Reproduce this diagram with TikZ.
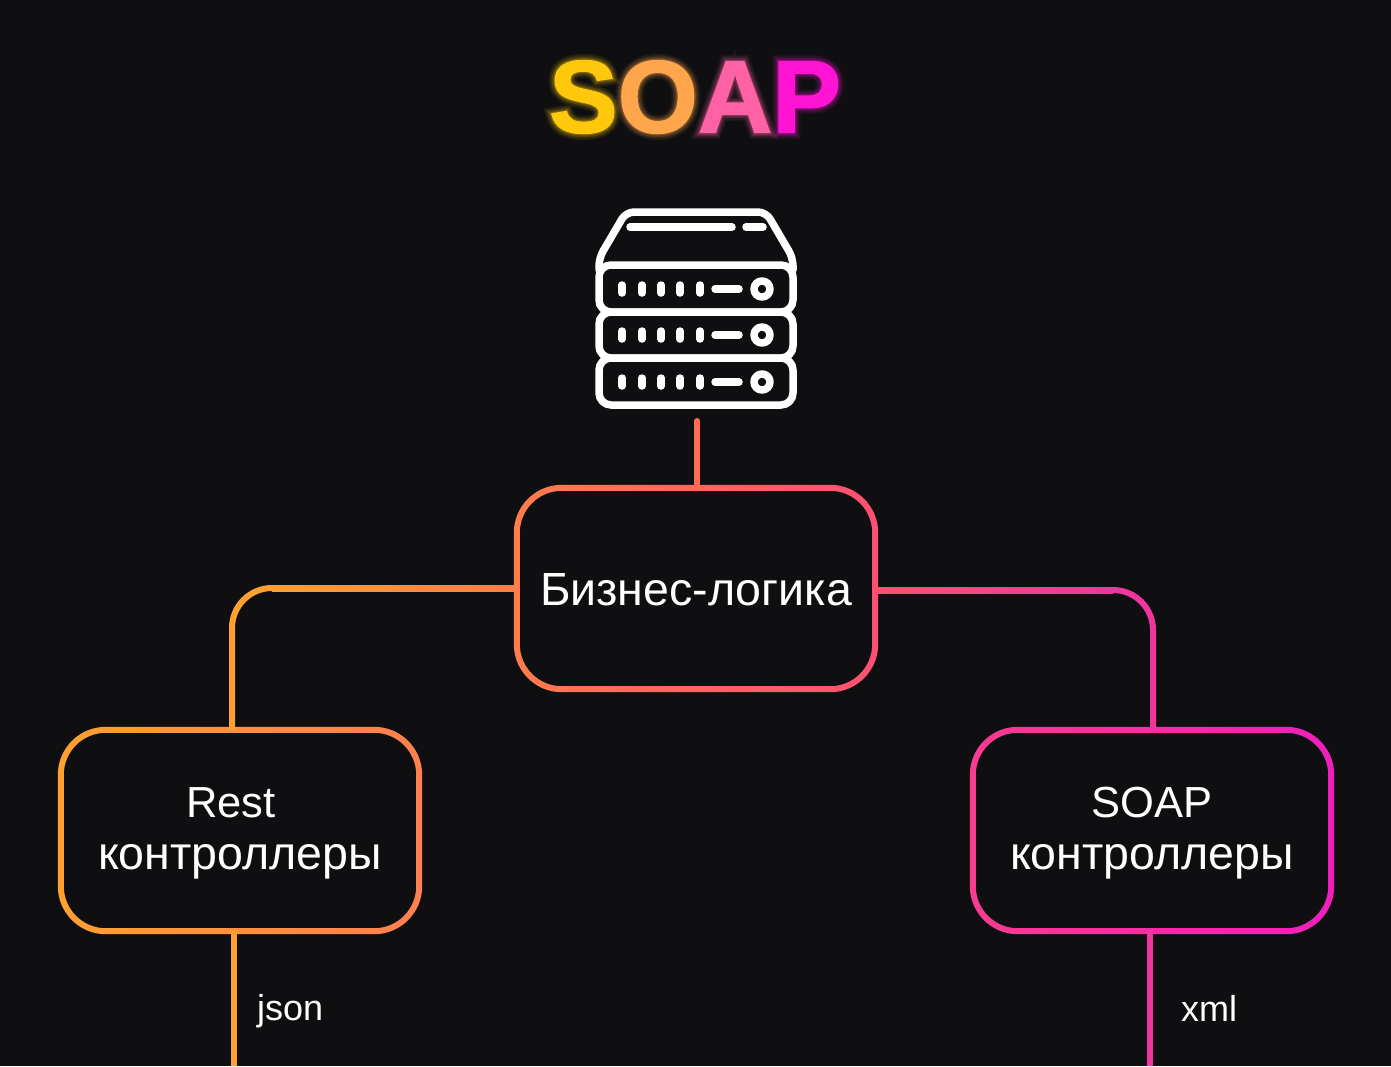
\documentclass[tikz,border=0pt]{standalone}
\usepackage{fontspec}
\setmainfont{Liberation Sans}
\newfontfamily\glowone[FakeBold=1.5]{Liberation Sans Bold}
\newfontfamily\glowtwo[FakeBold=4]{Liberation Sans Bold}
\newfontfamily\glowthree[FakeBold=7]{Liberation Sans Bold}
\newfontfamily\glowfour[FakeBold=10]{Liberation Sans Bold}
\newfontfamily\glowfive[FakeBold=13]{Liberation Sans Bold}
\usetikzlibrary{calc}
\tikzset{>=stealth}
\definecolor{bgdark}{HTML}{0F0F11}
\definecolor{linetop}{HTML}{FF6C50}
\definecolor{lineleft}{HTML}{FFA030}
\definecolor{lineright}{HTML}{F0359C}
\definecolor{logicleft}{HTML}{FF7C4C}
\definecolor{logicright}{HTML}{FF4F72}
\definecolor{restright}{HTML}{FF7F50}
\definecolor{soapleft}{HTML}{F83C90}
\definecolor{soapright}{HTML}{F01FBC}
\definecolor{letterS}{HTML}{FFC80C}
\definecolor{letterO}{HTML}{FFA54C}
\definecolor{letterA}{HTML}{FF62A4}
\definecolor{letterP}{HTML}{FF14D4}
\tikzset{
  wire/.style={line width=6pt},
  icon/.style={draw=white, line width=7.5pt, line cap=round, line join=round},
  boxnode/.style={minimum width=358pt, minimum height=201pt, inner sep=0pt, text=white, align=center,
    font=\fontsize{46.5}{53}\selectfont},
  smalltext/.style={text=white, font=\fontsize{36}{40}\selectfont, anchor=west, inner sep=0pt},
  titletext/.style={inner sep=0pt}
}
\newcommand{\soapword}{\textcolor{letterS}{S}\textcolor{letterO}{O}\textcolor{letterA}{A}\textcolor{letterP}{P}}
\newcommand{\lowered}[2]{\raisebox{-#1pt}[\height][\depth]{#2}}
\newcommand{\latinline}[1]{\lowered{3}{\fontsize{43.5}{53}\selectfont #1}}
% outline of a box, shaded from left to right
\newcommand{\boxline}[3]{
  \shade[even odd rule, left color=#2, right color=#3, rounded corners=48pt]
    ($(#1.south west)+(-3,3)$) rectangle ($(#1.north east)+(3,-3)$)
    [rounded corners=42pt] ($(#1.south west)+(3,-3)$) rectangle ($(#1.north east)+(-3,3)$);
}
% one row of the server
\newcommand{\serverrow}[3]{
  \draw[icon, rounded corners=12pt] (599,#1) rectangle (793,#2);
  \foreach \x in {622,642,661,680,700}
    \draw[icon] (\x,#3-4) -- (\x,#3+4);
  \draw[icon] (715,#3) -- (739,#3);
  \draw[icon] (762,#3) circle (8);
}
\begin{document}
\begin{tikzpicture}[x=1pt, y=-1pt]
  \fill[bgdark] (0,0) rectangle (1391,1066);
  \useasboundingbox (0,0) rectangle (1391,1066);

  % title
  \node[titletext, text opacity=.07, font=\fontsize{103}{120}\glowfive\selectfont] (glowe) at (695,97) {\soapword};
  \node[titletext, text opacity=.10, font=\fontsize{103}{120}\glowfour\selectfont] (glowd) at (695,97) {\soapword};
  \node[titletext, text opacity=.14, font=\fontsize{103}{120}\glowthree\selectfont] (glowc) at (695,97) {\soapword};
  \node[titletext, text opacity=.24, font=\fontsize{103}{120}\glowtwo\selectfont] (glowb) at (695,97) {\soapword};
  \node[titletext, font=\fontsize{103}{120}\glowone\selectfont] (title) at (695,97) {\soapword};

  % server
  \draw[icon, rounded corners=8pt] (599,270) -- (599,258) -- (626,212) -- (766,212) -- (793,258) -- (793,270);
  \draw[icon] (630,227) -- (732,227);
  \draw[icon] (746,227) -- (763,227);
  \serverrow{265}{312}{289}
  \serverrow{312}{358}{335}
  \serverrow{358}{405}{382}

  % boxes
  \coordinate (server) at (697,421);
  \coordinate (restout) at (234,1066);
  \coordinate (soapout) at (1150,1066);
  \coordinate (restelbow) at (272,588);
  \coordinate (soapelbow) at (1113,590);
  \node[boxnode] (logic) at (696,588.5) {\lowered{1}{Бизнес-логика}};
  \node[boxnode] (rest) at (240,830.5) {\latinline{Rest}\hspace{18pt}\mbox{}\\\lowered{2.5}{контроллеры}};
  \node[boxnode] (soap) at (1152,830.5) {\latinline{SOAP}\\\lowered{2.5}{контроллеры}};
  \boxline{logic}{logicleft}{logicright}
  \boxline{rest}{lineleft}{restright}
  \boxline{soap}{soapleft}{soapright}

  % connectors
  \draw[wire, linetop, line cap=round] (server) -- (server |- logic.north);
  \draw[wire, lineleft, rounded corners=40pt] (restelbow) -| ($(rest.north)+(-8,0)$);
  \shade[left color=lineleft, right color=logicleft]
    ($(restelbow)+(0,-3)$) rectangle ($(logic.west |- restelbow)+(0,3)$);
  \draw[wire, lineright, rounded corners=40pt] (soapelbow) -| ($(soap.north)+(1,0)$);
  \shade[left color=logicright, right color=lineright]
    ($(logic.east |- soapelbow)+(0,-3)$) rectangle ($(soapelbow)+(0,3)$);
  \draw[wire, lineleft] (rest.south -| restout) -- (restout);
  \draw[wire, lineright] (soap.south -| soapout) -- (soapout);

  % labels
  \node[smalltext] (json) at (257,1011) {json};
  \node[smalltext] (xml) at (1181,1008) {xml};
\end{tikzpicture}
\end{document}
